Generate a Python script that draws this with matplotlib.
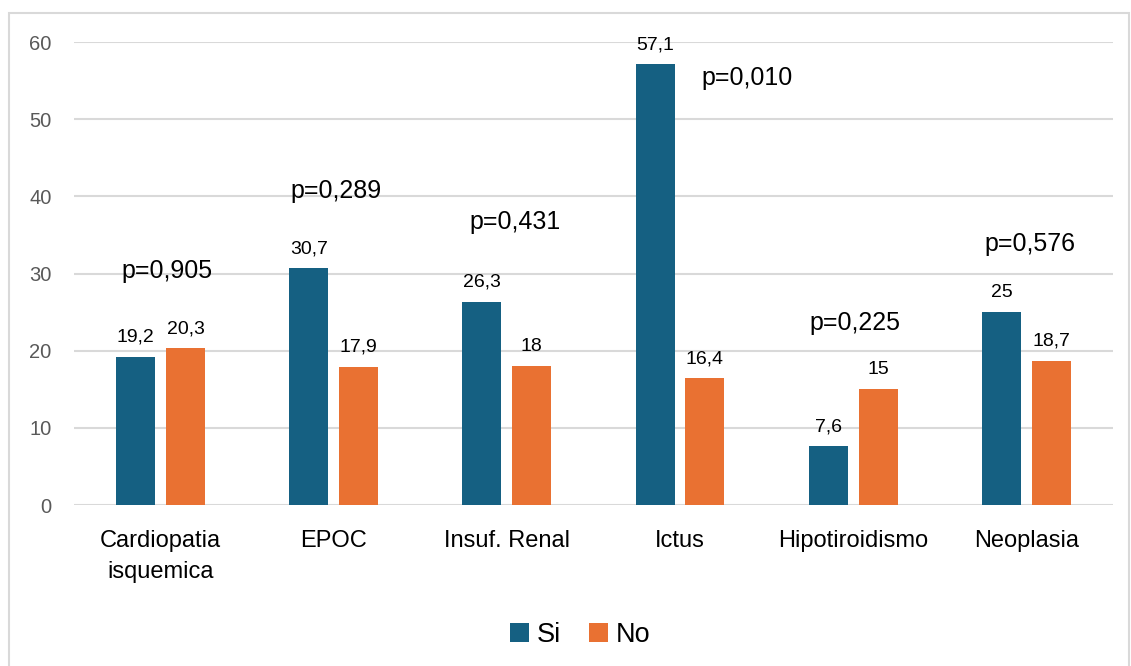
import numpy as np
import matplotlib
matplotlib.use("Agg")
import matplotlib.pyplot as plt
from matplotlib.patches import Rectangle

plt.rcParams['font.family'] = ['Liberation Sans', 'DejaVu Sans']

categories = ["Cardiopatia\nisquemica", "EPOC", "Insuf. Renal", "Ictus",
              "Hipotiroidismo", "Neoplasia"]
si = [19.2, 30.7, 26.3, 57.1, 7.6, 25]
no = [20.3, 17.9, 18, 16.4, 15, 18.7]
pvals = ["p=0,905", "p=0,289", "p=0,431", "p=0,010", "p=0,225", "p=0,576"]
# where each p-value sits: (x offset from group centre, y in data units)
p_pos = [(0.04, 30.3), (0.015, 40.7), (0.05, 36.7), (0.39, 55.3),
         (0.01, 23.6), (0.02, 33.8)]

c_si = "#156082"
c_no = "#E97132"

fig = plt.figure(figsize=(11.31, 6.66), dpi=100)
ax = fig.add_axes([0.0654, 0.2417, 0.9186, 0.6952])

x = np.arange(len(categories))
w = 0.225
off = 0.144
b1 = ax.bar(x - off, si, w, color=c_si, label="Si", zorder=3)
b2 = ax.bar(x + off, no, w, color=c_no, label="No", zorder=3)

def fmt(v):
    s = ("%g" % v).replace(".", ",")
    return s

for bars, vals in ((b1, si), (b2, no)):
    for b, v in zip(bars, vals):
        ax.annotate(fmt(v), (b.get_x() + b.get_width() / 2, v),
                    xytext=(0, 8), textcoords="offset points",
                    ha="center", va="bottom", fontsize=14, color="#000000")

for i, (t, (dx, yy)) in enumerate(zip(pvals, p_pos)):
    ax.text(i + dx, yy, t, ha="center", va="center", fontsize=18, color="#000000")

ax.set_xlim(-0.5, len(categories) - 0.5)
ax.set_ylim(0, 60)
ax.set_yticks(range(0, 61, 10))
ax.yaxis.grid(True, color="#D9D9D9", lw=1.5, zorder=0)
ax.set_xticks(x)
ax.set_xticklabels(categories, fontsize=17, color="#000000", linespacing=1.5)
ax.tick_params(axis="y", length=0, pad=16, labelsize=14.5, labelcolor="#595959")
ax.tick_params(axis="x", length=0, pad=18)
for s in ax.spines.values():
    s.set_visible(False)

fig.legend(handles=[b1, b2], labels=["Si", "No"], loc="center",
           bbox_to_anchor=(0.513, 0.047), ncol=2, frameon=False,
           fontsize=19.5, handlelength=0.7, handleheight=0.7,
           handletextpad=0.3, columnspacing=1.0)

# light frame around the chart
fig.patches.append(Rectangle((9 / 1131, -0.05), 1120 / 1131, 1.05 - 13 / 666,
                             transform=fig.transFigure, fill=False,
                             edgecolor="#D9D9D9", lw=1.5))

fig.savefig("out.png", dpi=100)
